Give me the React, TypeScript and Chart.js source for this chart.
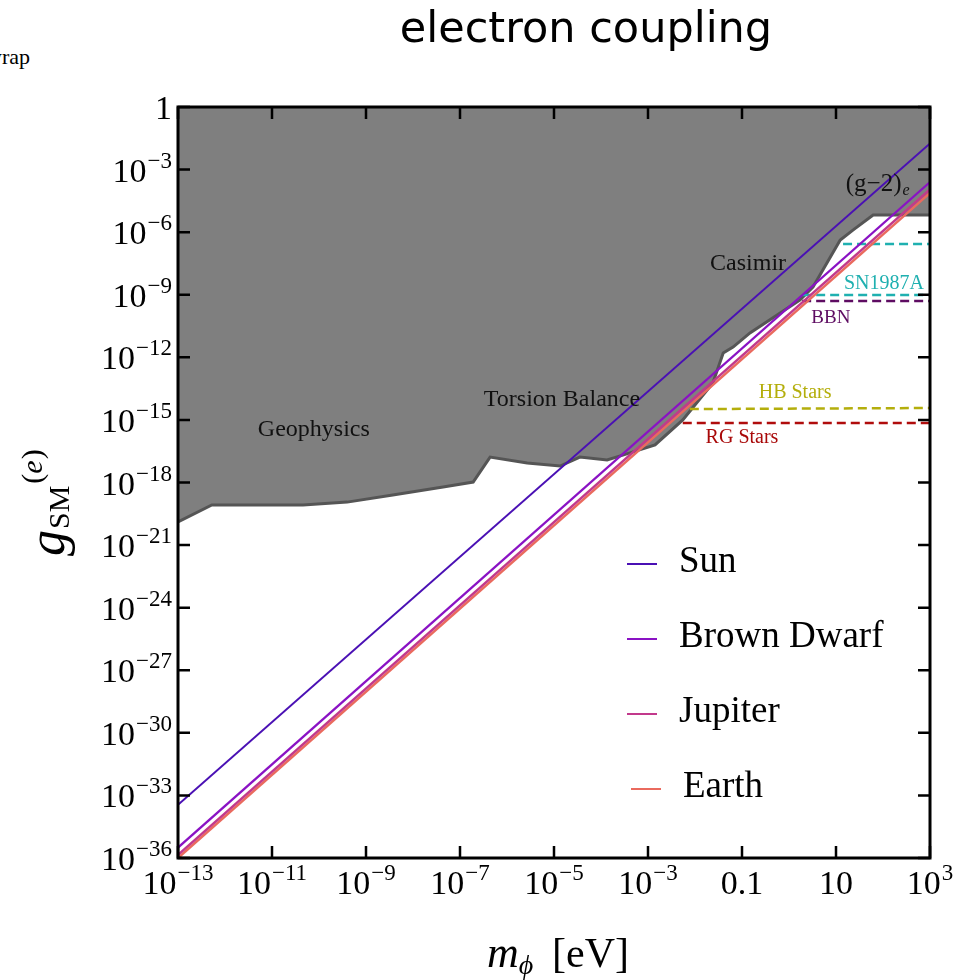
import React, { useEffect, useRef } from "react";
import { Chart, registerables } from "chart.js";

Chart.register(...registerables);

// ---------- data (log10 values) ----------
const massRangeLog = [-13, 3];
const sunCouplingLog = [-33.45, -1.75];
const brownDwarfCouplingLog = [-35.5, -3.6];
const jupiterCouplingLog = [-35.85, -3.95];
const earthCouplingLog = [-36.0, -4.12];

// upper excluded region (Geophysics / Torsion Balance / Casimir / (g-2)e)
const excludedMassLog = [
  -13, -12.28, -10.34, -9.4, -8.43, -7.36, -6.72, -6.36, -5.57, -4.87, -4.45,
  -3.87, -3.45, -2.85, -2.26, -1.62, -1.4, -1.19, -0.83, 0.23, 0.51, 1.09,
  1.36, 1.79, 3,
];
const excludedCouplingLog = [
  -19.89, -19.08, -19.08, -18.94, -18.6, -18.22, -17.98, -16.78, -17.07,
  -17.21, -16.78, -16.92, -16.63, -16.2, -15.0, -13.23, -11.79, -11.51,
  -10.83, -9.25, -8.63, -6.38, -5.9, -5.18, -5.18,
];

// horizontal astrophysical bounds
const sn1987aUpperMassLog = [1.15, 3];
const sn1987aUpperCouplingLog = [-6.57, -6.57];
const sn1987aLowerMassLog = [0.28, 3];
const sn1987aLowerCouplingLog = [-9.01, -9.01];
const bbnMassLog = [0.28, 3];
const bbnCouplingLog = [-9.3, -9.3];
const hbMassLog = [-2.11, 3];
const hbCouplingLog = [-14.48, -14.43];
const rgMassLog = [-2.26, 3];
const rgCouplingLog = [-15.15, -15.15];

const xTickLabels = ["10^−13", "10^−11", "10^−9", "10^−7", "10^−5", "10^−3", "0.1", "10", "10^3"];
const xTickExps = [-13, -11, -9, -7, -5, -3, -1, 1, 3];
const yTickLabels = ["1", "10^−3", "10^−6", "10^−9", "10^−12", "10^−15", "10^−18", "10^−21", "10^−24", "10^−27", "10^−30", "10^−33", "10^−36"];
const yTickExps = [0, -3, -6, -9, -12, -15, -18, -21, -24, -27, -30, -33, -36];

const annotationTexts = ["Geophysics", "Torsion Balance", "Casimir", "(g−2)", "SN1987A", "BBN", "HB Stars", "RG Stars"];
const annotationMassLog = [-10.11, -4.83, -0.87, 1.8, 2.02, 0.89, 0.13, -1.0];
const annotationCouplingLog = [-15.48, -14.05, -7.53, -3.69, -8.49, -10.12, -13.71, -15.87];

const legendNames = ["Sun", "Brown Dwarf", "Jupiter", "Earth"];

// ---------- styles ----------
const COLORS = {
  sun: "#4a10b4",
  bd: "#8a12c4",
  jup: "#c2398c",
  earth: "#ea6a5e",
  sn: "#1fb0b0",
  bbn: "#5e0c62",
  hb: "#b4ae0c",
  rg: "#b00c0c",
};
const annotationColors = ["#111", "#111", "#111", "#111", COLORS.sn, COLORS.bbn, COLORS.hb, "#a80808"];
const annotationSizes = [24, 24, 24, 25, 20, 19, 20, 20];

const pts = (xs: number[], ys: number[]) => xs.map((x, i) => ({ x: Math.pow(10, x), y: Math.pow(10, ys[i]) }));

const SERIF = '"Liberation Serif", "Times New Roman", serif';

function drawPow(ctx: CanvasRenderingContext2D, label: string, x: number, y: number, align: "center" | "right", baseSize: number, supSize: number, raise: number) {
  const parts = label.split("^");
  ctx.textBaseline = "alphabetic";
  ctx.textAlign = "left";
  ctx.font = `${baseSize}px ${SERIF}`;
  const bw = ctx.measureText(parts[0]).width;
  let sw = 0;
  if (parts[1]) {
    ctx.font = `${supSize}px ${SERIF}`;
    sw = ctx.measureText(parts[1]).width + 1;
  }
  const total = bw + sw;
  const x0 = align === "center" ? x - total / 2 : x - total;
  ctx.font = `${baseSize}px ${SERIF}`;
  ctx.fillText(parts[0], x0, y);
  if (parts[1]) {
    ctx.font = `${supSize}px ${SERIF}`;
    ctx.fillText(parts[1], x0 + bw + 1, y - raise);
  }
}

const decorPlugin = {
  id: "decor",
  afterDatasetsDraw(chart: any) {
    const ctx: CanvasRenderingContext2D = chart.ctx;
    const xs = chart.scales.x;
    const ys = chart.scales.y;
    const { left, right, top, bottom } = chart.chartArea;
    ctx.save();

    // annotations
    annotationTexts.forEach((t, i) => {
      const px = xs.getPixelForValue(Math.pow(10, annotationMassLog[i]));
      const py = ys.getPixelForValue(Math.pow(10, annotationCouplingLog[i]));
      ctx.fillStyle = annotationColors[i];
      ctx.font = `${annotationSizes[i]}px ${SERIF}`;
      ctx.textAlign = "center";
      ctx.textBaseline = "middle";
      ctx.fillText(t, px, py);
      if (t === "(g−2)") {
        const w = ctx.measureText(t).width;
        ctx.font = `italic 16px ${SERIF}`;
        ctx.textAlign = "left";
        ctx.fillText("e", px + w / 2 + 1, py + 7);
      }
    });

    // legend
    const legendDatasets = chart.data.datasets.filter((d: any) => d.legendRow !== undefined);
    legendDatasets.forEach((d: any) => {
      const row = d.legendRow;
      const y = 564 + row * 75;
      const dx = row === 3 ? 4 : 0;
      ctx.strokeStyle = d.borderColor;
      ctx.lineWidth = 2;
      ctx.beginPath();
      ctx.moveTo(627 + dx, y);
      ctx.lineTo(657 + dx, y);
      ctx.stroke();
      ctx.fillStyle = "#000";
      ctx.font = `37px ${SERIF}`;
      ctx.textAlign = "left";
      ctx.textBaseline = "middle";
      ctx.fillText(d.label, 679 + dx, y - 2);
    });

    // frame
    ctx.strokeStyle = "#000";
    ctx.lineWidth = 3;
    ctx.strokeRect(left, top, right - left, bottom - top);

    // ticks (inward, all sides)
    ctx.lineWidth = 2.5;
    const tl = 12;
    xTickExps.forEach((e) => {
      const px = xs.getPixelForValue(Math.pow(10, e));
      ctx.beginPath();
      ctx.moveTo(px, bottom);
      ctx.lineTo(px, bottom - tl);
      ctx.moveTo(px, top);
      ctx.lineTo(px, top + tl);
      ctx.stroke();
    });
    yTickExps.forEach((e) => {
      const py = ys.getPixelForValue(Math.pow(10, e));
      ctx.beginPath();
      ctx.moveTo(left, py);
      ctx.lineTo(left + tl, py);
      ctx.moveTo(right, py);
      ctx.lineTo(right - tl, py);
      ctx.stroke();
    });

    // tick labels
    ctx.fillStyle = "#000";
    xTickLabels.forEach((lab, i) => {
      const px = xs.getPixelForValue(Math.pow(10, xTickExps[i]));
      drawPow(ctx, lab, px, bottom + 36, "center", 34, 23, 14);
    });
    yTickLabels.forEach((lab, i) => {
      const py = ys.getPixelForValue(Math.pow(10, yTickExps[i]));
      drawPow(ctx, lab, left - 6, py + 12, "right", 34, 23, 14);
    });

    // x axis title: m_phi [eV]
    ctx.textAlign = "left";
    ctx.textBaseline = "alphabetic";
    ctx.font = `italic 44px ${SERIF}`;
    const mx = 487;
    const mb = 967;
    ctx.fillText("m", mx, mb);
    const mw = ctx.measureText("m").width;
    ctx.font = `italic 28px ${SERIF}`;
    ctx.fillText("ϕ", mx + mw, mb + 7);
    ctx.font = `42px ${SERIF}`;
    ctx.fillText("[eV]", 552, mb);

    // y axis title: g_SM^(e)
    ctx.save();
    ctx.translate(64, 556);
    ctx.rotate(-Math.PI / 2);
    ctx.font = `italic 52px ${SERIF}`;
    ctx.fillText("g", 0, 0);
    const gw = ctx.measureText("g").width;
    ctx.font = `30px ${SERIF}`;
    ctx.fillText("SM", gw + 1, 5);
    const smw = ctx.measureText("SM").width;
    ctx.fillText("(", gw + smw + 3, -22);
    const pw = ctx.measureText("(").width;
    ctx.font = `italic 30px ${SERIF}`;
    ctx.fillText("e", gw + smw + 3 + pw, -22);
    const ew = ctx.measureText("e").width;
    ctx.font = `30px ${SERIF}`;
    ctx.fillText(")", gw + smw + 4 + pw + ew, -22);
    ctx.restore();

    // title
    ctx.font = `43px "DejaVu Sans", sans-serif`;
    ctx.textAlign = "center";
    ctx.textBaseline = "alphabetic";
    ctx.fillStyle = "#000";
    ctx.fillText("electron coupling", 586, 42);

    ctx.restore();
  },
};

export default function App() {
  const ref = useRef<HTMLCanvasElement | null>(null);
  useEffect(() => {
    if (!ref.current) return;
    const starLine = (label: string, ys: number[], color: string, row: number, width: number) => ({
      label,
      data: pts(massRangeLog, ys),
      borderColor: color,
      borderWidth: width,
      pointRadius: 0,
      fill: false,
      order: 1,
      legendRow: row,
    });
    const dashLine = (label: string, xsl: number[], ysl: number[], color: string) => ({
      label,
      data: pts(xsl, ysl),
      borderColor: color,
      borderWidth: 2.5,
      borderDash: [9, 5],
      pointRadius: 0,
      fill: false,
      order: 5,
    });
    const chart = new Chart(ref.current, {
      type: "line",
      data: {
        datasets: [
          {
            label: "excluded",
            data: pts(excludedMassLog, excludedCouplingLog),
            borderColor: "#555555",
            backgroundColor: "#7f7f7f",
            borderWidth: 3,
            pointRadius: 0,
            fill: "end",
            order: 10,
          } as any,
          dashLine("SN1987A upper", sn1987aUpperMassLog, sn1987aUpperCouplingLog, COLORS.sn),
          dashLine("SN1987A lower", sn1987aLowerMassLog, sn1987aLowerCouplingLog, COLORS.sn),
          dashLine("BBN", bbnMassLog, bbnCouplingLog, COLORS.bbn),
          dashLine("HB Stars", hbMassLog, hbCouplingLog, COLORS.hb),
          dashLine("RG Stars", rgMassLog, rgCouplingLog, COLORS.rg),
          starLine(legendNames[0], sunCouplingLog, COLORS.sun, 0, 2),
          starLine(legendNames[1], brownDwarfCouplingLog, COLORS.bd, 1, 2.2),
          starLine(legendNames[2], jupiterCouplingLog, COLORS.jup, 2, 2.5),
          starLine(legendNames[3], earthCouplingLog, COLORS.earth, 3, 2.5),
        ] as any,
      },
      options: {
        responsive: false,
        animation: false,
        layout: { padding: { left: 178, right: 49, top: 107, bottom: 122 } },
        plugins: { legend: { display: false }, tooltip: { enabled: false }, title: { display: false } },
        scales: {
          x: { type: "logarithmic", min: 1e-13, max: 1e3, display: false },
          y: { type: "logarithmic", min: 1e-36, max: 1, display: false },
        },
      },
      plugins: [decorPlugin],
    });
    return () => chart.destroy();
  }, []);

  return (
    <div style={{ position: "absolute", left: 0, top: 0, width: 979, height: 980, overflow: "hidden", background: "#fff" }}>
      <div style={{ position: "absolute", left: -14, top: 44, fontFamily: SERIF, fontSize: 22, whiteSpace: "nowrap" }}>wrap</div>
      <canvas ref={ref} width={979} height={980} style={{ position: "absolute", left: 0, top: 0 }} />
    </div>
  );
}
